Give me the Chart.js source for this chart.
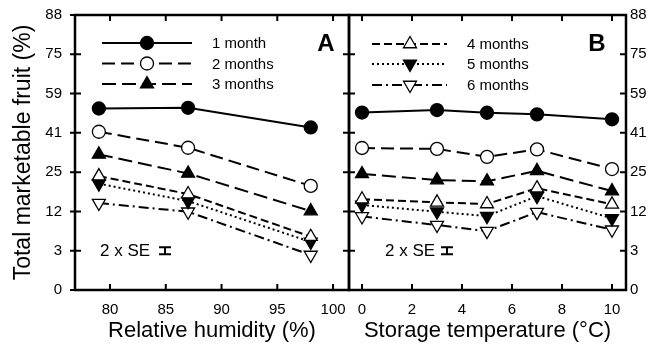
<!DOCTYPE html>
<html>
<head>
<meta charset="utf-8">
<script src="https://cdn.jsdelivr.net/npm/chart.js@4.4.0/dist/chart.umd.min.js"></script>
<style>
  body { margin: 0; background: #fff; }
  #wrap { position: relative; width: 654px; height: 344px; }
  canvas { position: absolute; top: 0; }
  #chartA { left: 0; }
  #chartB { left: 347px; }
</style>
</head>
<body>
<div id="wrap">
  <canvas id="chartA" width="352" height="344"></canvas>
  <canvas id="chartB" width="307" height="344"></canvas>
</div>
<script>
const seriesNames = ['1 month', '2 months', '3 months', '4 months', '5 months', '6 months'];

// panel A: relative humidity (%)
const humidity = [79, 87, 98];
const humid1 = [52.1, 52.4, 43.7];
const humid2 = [41.8, 34.9, 19.9];
const humid3 = [32.1, 24.5, 11.8];
const humid4 = [23.5, 17.1, 5.5];
const humid5 = [20.7, 14.8, 4.5];
const humid6 = [14.2, 11.6, 2.4];

// panel B: storage temperature (C)
const temperature = [0, 3, 5, 7, 10];
const temp1 = [50.3, 51.4, 50.2, 49.5, 47.3];
const temp2 = [34.8, 34.4, 31.1, 34.2, 26.2];
const temp3 = [24.3, 22.0, 21.6, 25.5, 18.1];
const temp4 = [15.4, 14.4, 13.9, 19.1, 13.8];
const temp5 = [13.6, 11.6, 10.4, 16.4, 9.8];
const temp6 = [10.3, 8.1, 6.7, 11.5, 7.0];

// y axis is arcsine-transformed, labels are back-transformed %
const yTickAngles = [0, 10, 20, 30, 40, 50, 60, 70];
const yTickLabels = ['0', '3', '12', '25', '41', '59', '75', '88'];
const humidTicks = [80, 85, 90, 95, 100];
const tempTicks = [0, 2, 4, 6, 8, 10];
const seBar = 1.8; // 2 x SE, in transformed units

const styles = [
  { dash: [], point: 'circle', fill: '#000', rot: 0, r: 6.5 },
  { dash: [13, 6], point: 'circle', fill: '#fff', rot: 0, r: 6.5 },
  { dash: [14, 6], point: 'triangle', fill: '#000', rot: 0, r: 7.5 },
  { dash: [8, 4], point: 'triangle', fill: '#fff', rot: 0, r: 7.5 },
  { dash: [2, 3], point: 'triangle', fill: '#000', rot: 180, r: 7.5 },
  { dash: [10, 4, 2, 4], point: 'triangle', fill: '#fff', rot: 180, r: 7.5 }
];

Chart.defaults.font.family = "'Liberation Sans', Arial, sans-serif";
Chart.defaults.color = '#000';

function arcsin(p) {
  return Math.asin(Math.sqrt(p / 100)) * 180 / Math.PI;
}

function drawMarker(ctx, st, x, y) {
  ctx.save();
  ctx.setLineDash([]);
  ctx.lineWidth = 1.3;
  ctx.strokeStyle = '#000';
  ctx.fillStyle = st.fill;
  ctx.beginPath();
  if (st.point === 'circle') {
    ctx.arc(x, y, st.r, 0, Math.PI * 2);
  } else {
    let a = st.rot * Math.PI / 180;
    for (let k = 0; k < 3; k++) {
      const px = x + Math.sin(a) * st.r, py = y - Math.cos(a) * st.r;
      if (k === 0) ctx.moveTo(px, py); else ctx.lineTo(px, py);
      a += Math.PI * 2 / 3;
    }
    ctx.closePath();
  }
  ctx.fill();
  ctx.stroke();
  ctx.restore();
}

// no auto padding for overhanging tick labels, the frame has to sit exactly
function noPad(s) {
  s.paddingLeft = 0; s.paddingRight = 0;
  s.paddingTop = 0; s.paddingBottom = 0;
}

const framePlugin = {
  id: 'frame',
  afterDraw(chart, args, opts) {
    const ctx = chart.ctx;
    const a = chart.chartArea;
    const xs = chart.scales.x, ys = chart.scales.y;
    ctx.save();
    ctx.strokeStyle = '#000';
    ctx.lineWidth = 2.5;
    ctx.setLineDash([]);
    ctx.strokeRect(a.left, a.top, a.right - a.left, a.bottom - a.top);
    const t = 6;
    ctx.lineWidth = 2;
    ctx.beginPath();
    xs.ticks.forEach(tk => {
      const px = xs.getPixelForValue(tk.value);
      ctx.moveTo(px, a.bottom); ctx.lineTo(px, a.bottom - t);
      ctx.moveTo(px, a.top); ctx.lineTo(px, a.top + t);
    });
    ys.ticks.forEach(tk => {
      const py = ys.getPixelForValue(tk.value);
      ctx.moveTo(a.left - opts.leftOut, py); ctx.lineTo(a.left + t, py);
      ctx.moveTo(a.right - t, py); ctx.lineTo(a.right, py);
    });
    ctx.stroke();

    // legend
    ctx.font = "15px 'Liberation Sans', Arial, sans-serif";
    ctx.textBaseline = 'middle';
    ctx.fillStyle = '#000';
    opts.legend.forEach((idx, row) => {
      const st = styles[idx];
      const ly = opts.legendY[row];
      ctx.lineWidth = 2;
      ctx.setLineDash(st.dash);
      ctx.beginPath();
      ctx.moveTo(opts.legendX[0], ly);
      ctx.lineTo(opts.legendX[2], ly);
      ctx.stroke();
      ctx.setLineDash([]);
      drawMarker(ctx, st, opts.legendX[1], ly);
      ctx.fillStyle = '#000';
      ctx.textAlign = 'left';
      ctx.fillText(seriesNames[idx], opts.legendX[3], ly + 1);
    });

    // panel letter
    ctx.font = "bold 24px 'Liberation Sans', Arial, sans-serif";
    ctx.textAlign = 'center';
    ctx.fillText(opts.letter, opts.letterX, 44);

    // 2 x SE
    ctx.font = "17px 'Liberation Sans', Arial, sans-serif";
    ctx.textAlign = 'left';
    ctx.fillText('2 x SE', opts.seX, 251);
    const yc = ys.getPixelForValue(arcsin(3));
    const h = Math.abs(ys.getPixelForValue(10 + seBar) - ys.getPixelForValue(10));
    const bx = opts.seBarX;
    ctx.lineWidth = 2;
    ctx.beginPath();
    ctx.moveTo(bx, yc - h / 2); ctx.lineTo(bx, yc + h / 2);
    ctx.moveTo(bx - 6, yc - h / 2); ctx.lineTo(bx + 6, yc - h / 2);
    ctx.moveTo(bx - 6, yc + h / 2); ctx.lineTo(bx + 6, yc + h / 2);
    ctx.stroke();
    ctx.restore();
  }
};

function makeDatasets(xs, seriesList) {
  return seriesList.map((vals, i) => {
    const st = styles[i];
    return {
      label: seriesNames[i],
      data: xs.map((x, j) => ({ x: x, y: arcsin(vals[j]) })),
      borderColor: '#000',
      borderWidth: 2,
      borderDash: st.dash,
      pointStyle: st.point,
      pointRadius: st.r,
      pointRotation: st.rot,
      pointBackgroundColor: st.fill,
      pointBorderColor: '#000',
      pointBorderWidth: 1.3,
      fill: false,
      tension: 0,
      clip: false
    };
  });
}

const tickFont = { size: 15 };

new Chart(document.getElementById('chartA'), {
  type: 'line',
  data: { datasets: makeDatasets(humidity, [humid1, humid2, humid3, humid4, humid5, humid6]) },
  options: {
    responsive: false,
    animation: false,
    layout: { autoPadding: false, padding: { top: 15, right: 3, left: 0, bottom: 0 } },
    plugins: {
      legend: { display: false },
      tooltip: { enabled: false },
      frame: {
        leftOut: 5, legend: [0, 1, 2], legendX: [102, 147, 192, 212], legendY: [43, 63.5, 84],
        letter: 'A', letterX: 326, seX: 100, seBarX: 165
      }
    },
    scales: {
      x: {
        type: 'linear', min: 76.86, max: 101.43,
        afterBuildTicks: s => { s.ticks = humidTicks.map(v => ({ value: v })); },
        afterFit: s => { s.height = 54; noPad(s); },
        grid: { display: false, drawTicks: false },
        border: { display: false },
        ticks: { font: tickFont, padding: 11, maxRotation: 0 },
        title: { display: true, text: 'Relative humidity (%)', font: { size: 22 }, padding: { top: 0, bottom: 0 } }
      },
      y: {
        min: 0, max: 70,
        afterBuildTicks: s => { s.ticks = yTickAngles.map(v => ({ value: v })); },
        afterFit: s => { s.width = 75; noPad(s); },
        grid: { display: false, drawTicks: false },
        border: { display: false },
        ticks: { font: tickFont, padding: 13, callback: v => yTickLabels[yTickAngles.indexOf(v)] },
        title: { display: true, text: 'Total marketable fruit (%)', font: { size: 23 }, padding: { top: 10, bottom: 0 } }
      }
    }
  },
  plugins: [framePlugin]
});

new Chart(document.getElementById('chartB'), {
  type: 'line',
  data: { datasets: makeDatasets(temperature, [temp1, temp2, temp3, temp4, temp5, temp6]) },
  options: {
    responsive: false,
    animation: false,
    layout: { autoPadding: false, padding: { top: 15, right: 0, left: 2, bottom: 0 } },
    plugins: {
      legend: { display: false },
      tooltip: { enabled: false },
      frame: {
        leftOut: 0, legend: [3, 4, 5], legendX: [25, 63, 100, 120], legendY: [44, 64, 85],
        letter: 'B', letterX: 250, seX: 38, seBarX: 100
      }
    },
    scales: {
      x: {
        type: 'linear', min: -0.52, max: 10.56,
        afterBuildTicks: s => { s.ticks = tempTicks.map(v => ({ value: v })); },
        afterFit: s => { s.height = 54; noPad(s); },
        grid: { display: false, drawTicks: false },
        border: { display: false },
        ticks: { font: tickFont, padding: 11, maxRotation: 0 },
        title: { display: true, text: 'Storage temperature (°C)', font: { size: 22 }, padding: { top: 0, bottom: 0 } }
      },
      y: {
        position: 'right',
        min: 0, max: 70,
        afterBuildTicks: s => { s.ticks = yTickAngles.map(v => ({ value: v })); },
        afterFit: s => { s.width = 28; noPad(s); },
        grid: { display: false, drawTicks: false },
        border: { display: false },
        ticks: { font: tickFont, padding: 4, callback: v => yTickLabels[yTickAngles.indexOf(v)] }
      }
    }
  },
  plugins: [framePlugin]
});
</script>
</body>
</html>
